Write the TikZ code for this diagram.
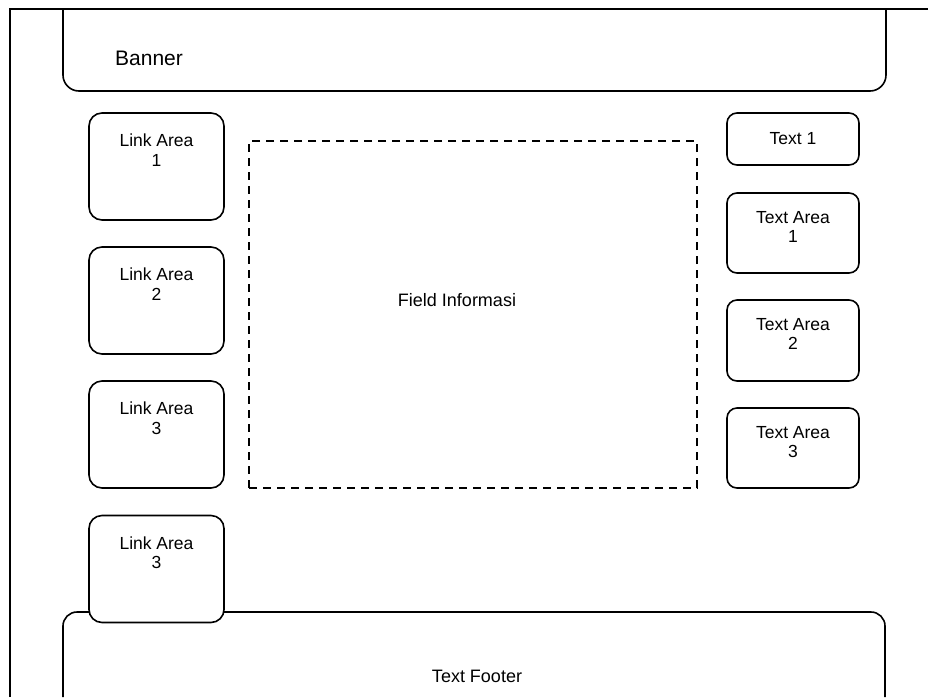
\documentclass[tikz,border=0pt]{standalone}
\usepackage{fontspec}
\setmainfont{Liberation Sans}
\usetikzlibrary{calc}
\tikzset{
  x=1pt,y=-1pt,
  every path/.style={line width=1.6pt, black},
  linkbox/.style={draw, fill=white, rounded corners=13pt, minimum width=135pt, minimum height=107pt, inner sep=0pt},
  textbox/.style={draw, fill=white, rounded corners=10pt, minimum width=132pt, inner sep=0pt},
  dashbox/.style={draw, dash pattern=on 8pt off 6pt, minimum width=448pt, minimum height=347pt, inner sep=0pt},
  lbl/.style={align=center, inner sep=0pt, font=\fontsize{17.5}{19.5}\selectfont},
  widelbl/.style={inner sep=0pt, font=\fontsize{18}{20}\selectfont},
  biglbl/.style={inner sep=0pt, font=\fontsize{21}{24}\selectfont}
}
\begin{document}
\begin{tikzpicture}
\useasboundingbox (0,0) rectangle (928,697);
% outer frame
\coordinate (fbl) at (10,697);
\coordinate (ftl) at (10,9);
\coordinate (ftr) at (928,9);
\draw (fbl) -- (ftl) -- (ftr);
% banner
\coordinate (bl) at (63,9);
\coordinate (br) at (886,9);
\draw[rounded corners=16pt] (bl) -- (63,91) -- (886,91) -- (br);
\node[biglbl] (banner) at (149,58) {Banner};
% footer
\coordinate (ftbl) at (63,697);
\coordinate (ftbr) at (885,697);
\draw[rounded corners=14pt] (ftbl) -- (63,612) -- (885,612) -- (ftbr);
\node[widelbl] (footer) at (477,676) {Text Footer};
% dashed field
\node[dashbox] (field) at (473,314.5) {};
\node[widelbl] (fieldtxt) at (457,300) {Field Informasi};
% link areas
\node[linkbox] (la1) at (156.5,166.5) {};
\node[lbl] at ($(la1.north)+(0,38)$) {Link Area\\1};
\node[linkbox] (la2) at (156.5,300.5) {};
\node[lbl] at ($(la2.north)+(0,38)$) {Link Area\\2};
\node[linkbox] (la3) at (156.5,434.5) {};
\node[lbl] at ($(la3.north)+(0,38)$) {Link Area\\3};
\node[linkbox] (la4) at (156.5,569) {};
\node[lbl] at ($(la4.north)+(0,38)$) {Link Area\\3};
% right column
\node[textbox, minimum height=52pt] (t1) at (793,139) {};
\node[lbl] at (t1.center) {Text 1};
\node[textbox, minimum height=80pt] (ta1) at (793,233) {};
\node[lbl] at ($(ta1.north)+(0,35)$) {Text Area\\1};
\node[textbox, minimum height=81pt] (ta2) at (793,340.5) {};
\node[lbl] at ($(ta2.north)+(0,35)$) {Text Area\\2};
\node[textbox, minimum height=80pt] (ta3) at (793,448) {};
\node[lbl] at ($(ta3.north)+(0,35)$) {Text Area\\3};
\end{tikzpicture}
\end{document}
